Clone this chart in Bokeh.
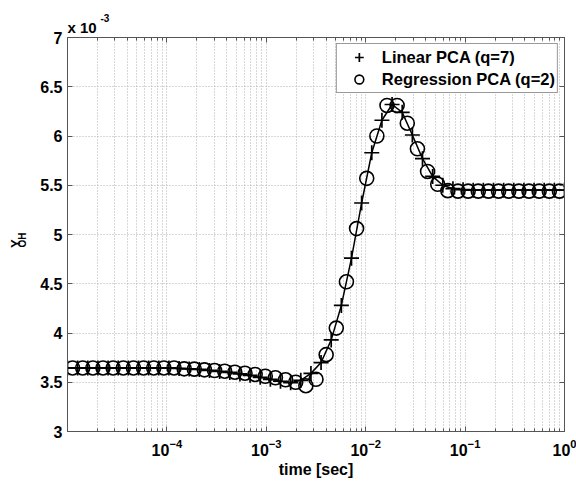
from bokeh.plotting import figure
from bokeh.models import (LogAxis, LinearAxis, FixedTicker, Range1d, Title,
                          Legend, LegendItem, CustomJSTickFormatter)
from bokeh.embed import file_html
from bokeh.resources import INLINE

# ---------------- data (Y_OH in units of 10^-3) ----------------
time_linear_pca = [
    1.000e-05, 1.265e-05, 1.600e-05, 2.024e-05, 2.560e-05, 3.237e-05, 4.095e-05,
    5.179e-05, 6.551e-05, 8.286e-05, 1.048e-04, 1.326e-04, 1.677e-04, 2.121e-04,
    2.683e-04, 3.393e-04, 4.292e-04, 5.429e-04, 6.866e-04, 8.685e-04, 1.099e-03,
    1.389e-03, 1.758e-03, 2.223e-03, 2.812e-03, 3.556e-03, 4.498e-03, 5.690e-03,
    7.197e-03, 9.103e-03, 1.151e-02, 1.456e-02, 1.842e-02, 2.330e-02, 2.947e-02,
    3.728e-02, 4.715e-02, 5.964e-02, 7.543e-02, 9.541e-02, 1.207e-01, 1.526e-01,
    1.931e-01, 2.442e-01, 3.089e-01, 3.907e-01, 4.942e-01, 6.251e-01, 7.906e-01,
    1.000e+00]
yoh_linear_pca = [
    3.645, 3.645, 3.645, 3.645, 3.645, 3.645, 3.645, 3.645, 3.645, 3.645, 3.645,
    3.640, 3.635, 3.630, 3.620, 3.610, 3.600, 3.585, 3.570, 3.550, 3.530, 3.510,
    3.495, 3.520, 3.590, 3.700, 3.930, 4.280, 4.760, 5.320, 5.830, 6.160, 6.320,
    6.240, 6.010, 5.770, 5.590, 5.500, 5.465, 5.455, 5.450, 5.450, 5.450, 5.450,
    5.450, 5.450, 5.450, 5.450, 5.450, 5.450]

time_regression_pca = [
    1.125e-05, 1.423e-05, 1.800e-05, 2.276e-05, 2.879e-05, 3.641e-05, 4.605e-05,
    5.825e-05, 7.368e-05, 9.319e-05, 1.179e-04, 1.491e-04, 1.886e-04, 2.385e-04,
    3.017e-04, 3.816e-04, 4.827e-04, 6.105e-04, 7.722e-04, 9.767e-04, 1.235e-03,
    1.563e-03, 1.977e-03, 2.500e-03, 3.162e-03, 4.000e-03, 5.059e-03, 6.399e-03,
    8.094e-03, 1.024e-02, 1.295e-02, 1.638e-02, 2.072e-02, 2.620e-02, 3.314e-02,
    4.192e-02, 5.303e-02, 6.707e-02, 8.483e-02, 1.073e-01, 1.357e-01, 1.717e-01,
    2.171e-01, 2.746e-01, 3.474e-01, 4.394e-01, 5.558e-01, 7.030e-01, 8.892e-01]
yoh_regression_pca = [
    3.645, 3.645, 3.645, 3.645, 3.645, 3.645, 3.645, 3.645, 3.645, 3.645, 3.645,
    3.636, 3.633, 3.626, 3.619, 3.612, 3.602, 3.592, 3.579, 3.561, 3.545, 3.525,
    3.500, 3.465, 3.530, 3.780, 4.050, 4.520, 5.060, 5.570, 6.000, 6.310, 6.310,
    6.130, 5.870, 5.640, 5.510, 5.445, 5.440, 5.440, 5.440, 5.440, 5.440, 5.440,
    5.440, 5.440, 5.440, 5.440, 5.440]

x_major_ticks = [1e-4, 1e-3, 1e-2, 1e-1, 1e0]
x_minor_ticks = [m * 10.0 ** e for e in range(-5, 0) for m in range(2, 10)]
y_ticks = [3.0, 3.5, 4.0, 4.5, 5.0, 5.5, 6.0, 6.5, 7.0]
y_tick_labels = ["3", "3.5", "4", "4.5", "5", "5.5", "6", "6.5", "7"]
y_multiplier_exponent = "-3"
x_axis_title = "time [sec]"
y_axis_title = ("Y", "OH")          # symbol and its subscript
legend_labels = ["Linear PCA (q=7)", "Regression PCA (q=2)"]

# ---------------- styling ----------------
FONT = "Liberation Sans"
AXC = "#555555"
GRIDC = "#b0b0b0"

p = figure(width=576, height=483, x_axis_type="log",
           x_range=Range1d(1e-5, 1), y_range=Range1d(3, 7),
           output_backend="svg", toolbar_location=None,
           min_border_left=67, min_border_right=12,
           min_border_top=37, min_border_bottom=52,
           background_fill_color="white", border_fill_color="white")
p.outline_line_color = AXC

xticker = FixedTicker(ticks=x_major_ticks, minor_ticks=x_minor_ticks)
yticker = FixedTicker(ticks=y_ticks)


def style_axis(ax):
    ax.axis_line_color = AXC
    ax.major_tick_line_color = AXC
    ax.minor_tick_line_color = AXC
    ax.major_tick_in = 5
    ax.major_tick_out = 0
    ax.minor_tick_in = 3
    ax.minor_tick_out = 0


def blank_labels(ax):
    ax.formatter = CustomJSTickFormatter(code="return ''")
    ax.major_label_text_alpha = 0
    ax.major_label_standoff = 0


xa = p.xaxis[0]
xa.ticker = xticker
style_axis(xa)
xa.major_label_text_font = FONT
xa.major_label_text_font_size = "16px"
xa.major_label_text_font_style = "bold"
xa.major_label_text_color = "black"
xa.major_label_standoff = 7
xa.axis_label = x_axis_title
xa.axis_label_text_font = FONT
xa.axis_label_text_font_size = "16px"
xa.axis_label_text_font_style = "bold"
xa.axis_label_text_color = "black"
xa.axis_label_standoff = 2

ya = p.yaxis[0]
ya.ticker = yticker
ya.major_label_overrides = {v: s for v, s in zip(y_ticks, y_tick_labels)}
ya.major_label_text_font = FONT
ya.major_label_text_font_size = "16px"
ya.major_label_text_font_style = "bold"
ya.major_label_text_color = "black"
ya.major_label_standoff = 5
style_axis(ya)
ya.minor_tick_line_color = None

top = LogAxis(ticker=xticker)
blank_labels(top)
style_axis(top)
p.add_layout(top, "above")

right = LinearAxis(ticker=yticker)
blank_labels(right)
style_axis(right)
right.minor_tick_line_color = None
p.add_layout(right, "right")


# y-axis title Y_OH built from two label-only axes (subscript nearer the frame)
def title_axis(text, size, standoff):
    ax = LinearAxis(ticker=FixedTicker(ticks=[]))
    blank_labels(ax)
    ax.axis_line_color = None
    ax.major_tick_line_color = None
    ax.minor_tick_line_color = None
    ax.major_tick_in = 0
    ax.major_tick_out = 0
    ax.minor_tick_in = 0
    ax.minor_tick_out = 0
    ax.axis_label = text
    ax.axis_label_text_font = FONT
    ax.axis_label_text_font_size = size
    ax.axis_label_text_font_style = "bold"
    ax.axis_label_text_color = "black"
    ax.axis_label_standoff = standoff
    p.add_layout(ax, "left")


title_axis("    " + y_axis_title[1], "10px", 10)
title_axis(y_axis_title[0] + "     ", "13px", -9)

p.xgrid.ticker = xticker
p.xgrid.grid_line_color = GRIDC
p.xgrid.grid_line_dash = "1 2"
p.xgrid.minor_grid_line_color = GRIDC
p.xgrid.minor_grid_line_dash = "1 2"
p.ygrid.ticker = yticker
p.ygrid.grid_line_color = GRIDC
p.ygrid.grid_line_dash = "1 2"

# ---------------- data glyphs ----------------
p.line(time_linear_pca, yoh_linear_pca, line_color="black", line_width=1.5)
cross_r = p.scatter(time_linear_pca, yoh_linear_pca, marker="cross", size=15,
                    line_color="black", line_width=1.7)
circ_r = p.scatter(time_regression_pca, yoh_regression_pca, marker="circle",
                   size=14, fill_color=None, line_color="black", line_width=1.6)

legend = Legend(items=[LegendItem(label=legend_labels[0], renderers=[cross_r]),
                       LegendItem(label=legend_labels[1], renderers=[circ_r])],
                location="top_right", margin=6, padding=2, spacing=0,
                glyph_width=40, glyph_height=22, label_standoff=3,
                label_text_font=FONT, label_text_font_size="16.5px",
                label_text_font_style="bold", label_text_color="black",
                border_line_color="#333333", border_line_width=1,
                background_fill_color="white", background_fill_alpha=1.0)
p.add_layout(legend)

# ---------------- axis multiplier  x 10^-3 (titles above the frame) ----------------
def side_title(text, where, size, **kw):
    t = Title(text=text, text_font=FONT, text_font_size=size,
              text_font_style="bold", text_color="black", **kw)
    p.add_layout(t, where)


side_title("x 10", "above", "15px", align="left", offset=0, standoff=3)
side_title(y_multiplier_exponent, "above", "10px", align="left", offset=33,
           standoff=-13)

open("out.html", "w").write(file_html(p, INLINE))
